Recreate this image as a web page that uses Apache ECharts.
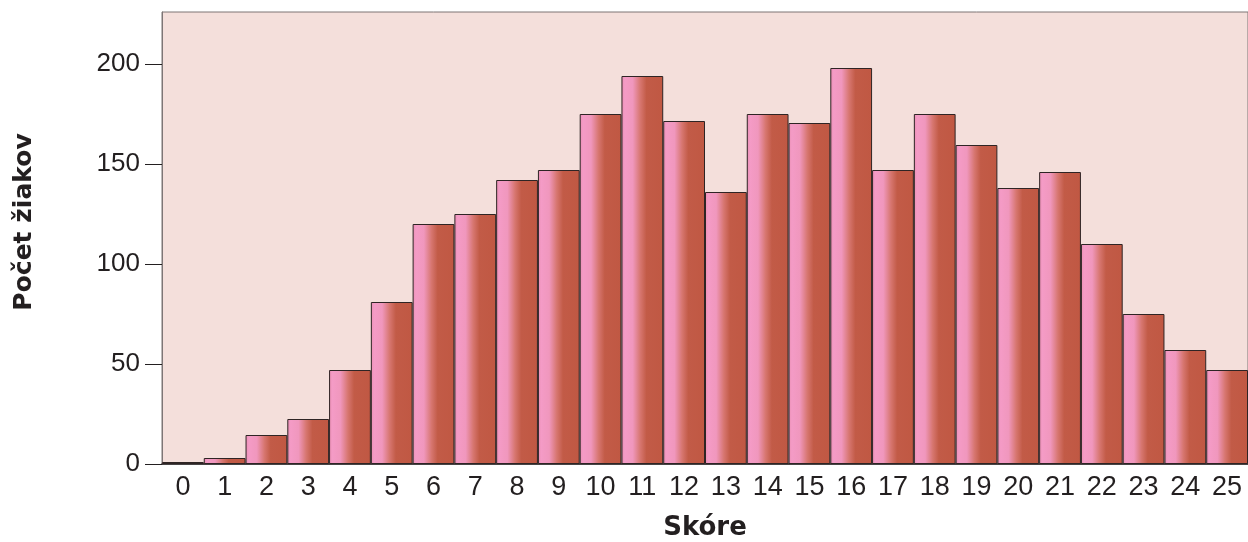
<!DOCTYPE html>
<html>
<head>
<meta charset="utf-8">
<script src="https://cdn.jsdelivr.net/npm/echarts@6/dist/echarts.min.js"></script>
<style>
  html, body { margin: 0; padding: 0; background: #ffffff; }
  #chart { width: 1248px; height: 542px; }
</style>
</head>
<body>
<div id="chart"></div>
<script>
const scores = ['0', '1', '2', '3', '4', '5', '6', '7', '8', '9', '10', '11', '12',
  '13', '14', '15', '16', '17', '18', '19', '20', '21', '22', '23', '24', '25'];
const pupils = [1, 3, 14.5, 22.5, 47, 81, 120, 125, 142, 147, 175, 194, 171.5,
  136, 175, 170.5, 198, 147, 175, 159.5, 138, 146, 110, 75, 57, 47];
const yTicks = [0, 50, 100, 150, 200];

const chart = echarts.init(document.getElementById('chart'), null, { renderer: 'canvas' });

// pink on the left fading into brick red
const barFill = new echarts.graphic.LinearGradient(0, 0, 1, 0, [
  { offset: 0, color: '#ea8fb3' },
  { offset: 0.08, color: '#f49bc6' },
  { offset: 0.27, color: '#f097bd' },
  { offset: 0.45, color: '#d77670' },
  { offset: 0.6, color: '#c25b47' },
  { offset: 1, color: '#c05843' }
]);

chart.setOption({
  animation: false,
  grid: {
    left: 162, right: 0, top: 12, bottom: 78,
    outerBoundsMode: 'none',
    containLabel: false,
    show: true,
    backgroundColor: '#f4dfdb',
    borderColor: '#7d7575',
    borderWidth: 1
  },
  xAxis: {
    type: 'category',
    data: scores,
    name: 'Skóre',
    nameLocation: 'middle',
    nameGap: 51,
    nameTextStyle: { fontFamily: 'DejaVu Sans', fontWeight: 'bold', fontSize: 26, color: '#231f20' },
    axisLine: { lineStyle: { color: '#231f20', width: 1.5 } },
    axisTick: { alignWithLabel: true, length: 7, lineStyle: { color: '#231f20' } },
    axisLabel: {
      fontFamily: 'Liberation Sans Narrow, Liberation Sans',
      fontSize: 27, color: '#231f20', margin: 10, interval: 0
    }
  },
  yAxis: {
    type: 'value',
    min: 0,
    max: 226,
    interval: 50,
    name: 'Počet žiakov',
    nameLocation: 'middle',
    nameGap: 125,
    nameRotate: 90,
    nameTextStyle: {
      fontFamily: 'DejaVu Sans', fontWeight: 'bold', fontSize: 25, color: '#231f20',
      padding: [0, 0, 0, 32]
    },
    splitLine: { show: false },
    axisLine: { show: true, lineStyle: { color: '#7d7575', width: 1 } },
    axisTick: { show: true, length: 17, customValues: yTicks, lineStyle: { color: '#231f20' } },
    axisLabel: {
      fontFamily: 'Liberation Sans', fontSize: 26, color: '#231f20',
      margin: 22, customValues: yTicks
    }
  },
  series: [{
    type: 'bar',
    data: pupils,
    barCategoryGap: '0%',
    itemStyle: {
      color: barFill,
      borderColor: '#2e2424',
      borderWidth: 1
    }
  }]
});
</script>
</body>
</html>
